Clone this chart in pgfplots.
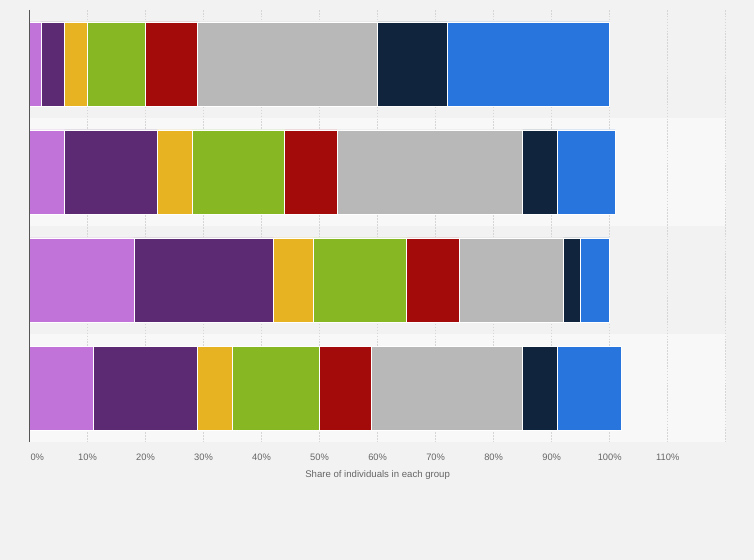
\documentclass[border=0pt]{standalone}
\usepackage{pgfplots}
\pgfplotsset{compat=1.18}
\usepackage{pgfplotstable}
\usepackage{fontspec}
\setmainfont{Liberation Sans}

\definecolor{bgc}{HTML}{F2F2F2}
\definecolor{band}{HTML}{F8F8F8}
\definecolor{gridc}{HTML}{D6D6D6}
\definecolor{txt}{HTML}{666666}
\definecolor{axc}{HTML}{555555}
\definecolor{c1}{HTML}{C273D9}
\definecolor{c2}{HTML}{5B2A72}
\definecolor{c3}{HTML}{E8B323}
\definecolor{c4}{HTML}{87B823}
\definecolor{c5}{HTML}{A30B0B}
\definecolor{c6}{HTML}{B8B8B8}
\definecolor{c7}{HTML}{10253D}
\definecolor{c8}{HTML}{2876DD}

% one row per group (top to bottom), one column per segment
\pgfplotstableread{
g  s1 s2 s3 s4 s5 s6 s7 s8
1  2  4  4  10 9  31 12 28
2  6  16 6  16 9  32 6  10
3  18 24 7  16 9  18 3  5
4  11 18 6  15 9  26 6  11
}\shares

\begin{document}
\begin{tikzpicture}
\fill[bgc] (0,0) rectangle (565.5pt,420pt);
\path[use as bounding box] (0,0) rectangle (565.5pt,420pt);
% lighter bands behind rows 2 and 4
\fill[band] (22.1pt,250.5pt) rectangle (544.3pt,331.5pt);
\fill[band] (22.1pt,88.5pt) rectangle (544.3pt,169.5pt);
\begin{axis}[
  at={(22.1pt,88.5pt)}, anchor=south west,
  scale only axis,
  width=522.2pt, height=324pt,
  xbar stacked,
  bar width=63pt,
  xmin=0, xmax=120,
  ymin=0.5, ymax=4.5,
  y dir=reverse,
  ytick=\empty,
  xtick={0,10,...,110},
  xticklabels={\makebox[0pt][l]{\kern0.8pt 0\%},10\%,20\%,30\%,40\%,50\%,60\%,70\%,80\%,90\%,100\%,110\%},
  extra x ticks={120},
  extra x tick labels={},
  xmajorgrids=true,
  grid style={gridc, dash pattern=on 1.2pt off 1pt, line width=0.6pt},
  major tick length=0pt,
  axis line style={draw=none},
  tick label style={font=\fontsize{7}{8}\selectfont, text=txt},
  xticklabel style={anchor=center, yshift=-11.25pt},
  xlabel={Share of individuals in each group},
  xlabel style={font=\fontsize{7.2}{8}\selectfont, text=txt,
    at={(rel axis cs:0.5,0)}, anchor=center, yshift=-24.4pt},
  every axis plot/.append style={draw=white, line width=0.5pt},
]
\addplot[fill=c1] table[x=s1, y=g] {\shares};
\addplot[fill=c2] table[x=s2, y=g] {\shares};
\addplot[fill=c3] table[x=s3, y=g] {\shares};
\addplot[fill=c4] table[x=s4, y=g] {\shares};
\addplot[fill=c5] table[x=s5, y=g] {\shares};
\addplot[fill=c6] table[x=s6, y=g] {\shares};
\addplot[fill=c7] table[x=s7, y=g] {\shares};
\addplot[fill=c8] table[x=s8, y=g] {\shares};
\end{axis}
% left axis line, on top of the bars
\draw[axc, line width=0.9pt] (22.1pt,88.5pt) -- (22.1pt,412.5pt);
\end{tikzpicture}
\end{document}
